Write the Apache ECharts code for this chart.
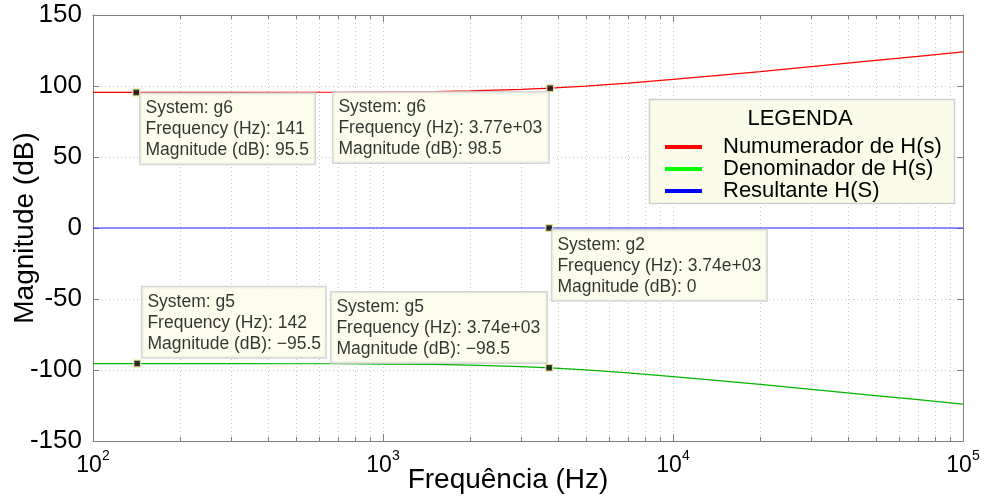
<!DOCTYPE html>
<html>
<head>
<meta charset="utf-8">
<script src="https://cdn.jsdelivr.net/npm/echarts@6/dist/echarts.min.js"></script>
<style>
  html, body { margin: 0; padding: 0; background: #fff; }
  #chart { width: 984px; height: 497px; }
</style>
</head>
<body>
<div id="chart"></div>
<script>
// Frequency grid (Hz) and magnitude responses (dB)
const freqHz = [100, 141, 200, 300, 500, 700, 1000, 1500, 2000, 3000, 3770, 5000, 7000, 10000, 15000, 20000, 30000, 50000, 70000, 100000];
const numeratorDb = [95.5, 95.5, 95.5, 95.5, 95.6, 95.6, 95.8, 96.1, 96.6, 97.6, 98.5, 99.9, 102.0, 104.6, 107.8, 110.1, 113.6, 118.0, 120.9, 124.0];
const denominatorDb = [-95.5, -95.5, -95.5, -95.5, -95.6, -95.6, -95.8, -96.1, -96.6, -97.6, -98.5, -99.9, -102.0, -104.6, -107.8, -110.1, -113.6, -118.0, -120.9, -124.0];
const resultantDb = [0, 0, 0, 0, 0, 0, 0, 0, 0, 0, 0, 0, 0, 0, 0, 0, 0, 0, 0, 0];

const seriesNames = ['Numumerador de H(s)', 'Denominador de H(s)', 'Resultante H(S)'];
const yTicks = [-150, -100, -50, 0, 50, 100, 150];
const minorFreqs = [200, 300, 400, 500, 600, 700, 800, 900,
                    2000, 3000, 4000, 5000, 6000, 7000, 8000, 9000,
                    20000, 30000, 40000, 50000, 60000, 70000, 80000, 90000];

// Data cursors: [system, frequency, magnitude, frequency text, magnitude text]
const tips = [
  ['g6', 141, 95.5, '141', '95.5'],
  ['g6', 3770, 98.5, '3.77e+03', '98.5'],
  ['g2', 3740, 0, '3.74e+03', '0'],
  ['g5', 142, -95.5, '142', '\u221295.5'],
  ['g5', 3740, -98.5, '3.74e+03', '\u221298.5']
];
// cursor box placement: [dx, dy, verticalAlign, box width]
const tipPlace = [
  [8.5, 5.5, 'top', 174],
  [-212.5, 8.5, 'top', 215],
  [7.5, 6.5, 'top', 214],
  [9.5, -2, 'bottom', 183],
  [-213.5, -1, 'bottom', 215]
];

const FONT = "'Liberation Sans', Arial, Helvetica, sans-serif";
const AXIS_COLOR = '#808080';
const GRID_DOT = { color: '#c4c4c4', width: 1, type: [1, 3] };

const zip = (xs, ys) => xs.map((x, i) => [x, ys[i]]);

const chart = echarts.init(document.getElementById('chart'), null, { renderer: 'canvas' });

const supLabel = v => {
  const e = Math.round(Math.log10(v));
  return '{b|10}{s|' + e + '}';
};

const option = {
  backgroundColor: '#ffffff',
  animation: false,
  textStyle: { fontFamily: FONT },
  grid: { left: 93, right: 21, top: 15, bottom: 56, containLabel: false, outerBoundsMode: 'none' },
  xAxis: [
    {
      type: 'log', logBase: 10, min: 100, max: 100000,
      name: 'Frequência (Hz)', nameLocation: 'middle', nameGap: 25, nameMoveOverlap: false,
      nameTextStyle: { fontSize: 28, color: '#000', fontFamily: FONT, padding: [0, 40, 0, 0] },
      axisLine: { show: true, onZero: false, lineStyle: { color: AXIS_COLOR, width: 1 } },
      axisTick: { show: true, inside: true, length: 7, lineStyle: { color: AXIS_COLOR } },
      axisLabel: {
        formatter: supLabel, margin: 8,
        rich: {
          b: { fontSize: 23, color: '#000', fontFamily: FONT, padding: [5, 0, 0, 0] },
          s: { fontSize: 14, color: '#000', fontFamily: FONT, verticalAlign: 'top' }
        }
      },
      splitLine: { show: true, lineStyle: GRID_DOT }
    },
    {
      type: 'log', logBase: 10, min: 100, max: 100000, position: 'top',
      axisLine: { show: true, onZero: false, lineStyle: { color: AXIS_COLOR, width: 1 } },
      axisTick: { show: true, inside: true, length: 7, lineStyle: { color: AXIS_COLOR } },
      axisLabel: { show: false },
      splitLine: { show: false }
    }
  ],
  yAxis: [
    {
      type: 'value', min: -150, max: 150, interval: 50,
      name: 'Magnitude (dB)', nameLocation: 'middle', nameGap: 54, nameMoveOverlap: false,
      nameTextStyle: { fontSize: 28, color: '#000', fontFamily: FONT },
      axisLine: { show: true, onZero: false, lineStyle: { color: AXIS_COLOR, width: 1 } },
      axisTick: { show: true, inside: true, length: 6, lineStyle: { color: AXIS_COLOR } },
      axisLabel: {
        fontSize: 26, color: '#000', fontFamily: FONT, margin: 11,
        formatter: v => (yTicks.includes(v) ? String(v) : '')
      },
      splitLine: { show: true, lineStyle: GRID_DOT }
    },
    {
      type: 'value', min: -150, max: 150, interval: 50, position: 'right',
      axisLine: { show: true, onZero: false, lineStyle: { color: AXIS_COLOR, width: 1 } },
      axisTick: { show: true, inside: true, length: 6, lineStyle: { color: AXIS_COLOR } },
      axisLabel: { show: false },
      splitLine: { show: false }
    }
  ],
  legend: {
    data: seriesNames,
    orient: 'vertical',
    left: 665, top: 136,
    z: 6,
    icon: 'rect',
    itemWidth: 37, itemHeight: 4, itemGap: 0,
    padding: 0,
    selectedMode: false,
    textStyle: { fontSize: 22, color: '#000', fontFamily: FONT, lineHeight: 21.5, padding: [0, 0, 0, 16] }
  },
  graphic: [
    {
      type: 'rect', z: 3,
      shape: { x: 649.5, y: 99.5, width: 305, height: 104 },
      style: { fill: '#fbfbe9', stroke: '#cfcfcf', lineWidth: 1.5 }
    },
    {
      type: 'text', z: 4, x: 800, y: 119,
      style: { text: 'LEGENDA', fontSize: 22, fill: '#000', fontFamily: FONT, align: 'center', verticalAlign: 'middle' }
    }
  ],
  series: [
    {
      // minor log grid lines and minor ticks on the bottom/top frame
      type: 'custom', name: 'minor-grid', silent: true, z: 1,
      xAxisIndex: 0, yAxisIndex: 0,
      data: minorFreqs.map(f => [f]),
      encode: { x: 0 },
      renderItem: (params, api) => {
        const cs = params.coordSys;
        const x = Math.round(api.coord([api.value(0), 0])[0]) + 0.5;
        const top = cs.y, bot = cs.y + cs.height;
        return {
          type: 'group',
          children: [
            { type: 'line', shape: { x1: x, y1: top, x2: x, y2: bot }, style: { stroke: GRID_DOT.color, lineWidth: 1, lineDash: [1, 3] } },
            { type: 'line', shape: { x1: x, y1: bot, x2: x, y2: bot - 4 }, style: { stroke: AXIS_COLOR, lineWidth: 1 } },
            { type: 'line', shape: { x1: x, y1: top, x2: x, y2: top + 4 }, style: { stroke: AXIS_COLOR, lineWidth: 1 } }
          ]
        };
      }
    },
    {
      type: 'line', name: seriesNames[0], data: zip(freqHz, numeratorDb),
      showSymbol: false, z: 2,
      lineStyle: { color: '#ff0000', width: 1.2 }, itemStyle: { color: '#ff0000' }
    },
    {
      type: 'line', name: seriesNames[1], data: zip(freqHz, denominatorDb),
      showSymbol: false, z: 2,
      lineStyle: { color: '#00b400', width: 1.2 }, itemStyle: { color: '#00ff00' }
    },
    {
      type: 'line', name: seriesNames[2], data: zip(freqHz, resultantDb),
      showSymbol: false, z: 2,
      lineStyle: { color: '#2020ff', width: 1.2 }, itemStyle: { color: '#0000ff' }
    },
    {
      type: 'scatter', name: 'cursors', z: 10,
      symbol: 'rect', symbolSize: 7,
      itemStyle: { color: '#000', borderColor: '#f5f0a8', borderWidth: 1.5 },
      data: tips.map((t, i) => ({
        value: [t[1], t[2]],
        label: {
          show: true,
          position: [tipPlace[i][0], tipPlace[i][1]],
          align: 'left',
          verticalAlign: tipPlace[i][2],
          width: tipPlace[i][3] - 10,
          overflow: 'none',
          formatter: 'System: ' + t[0] + '\nFrequency (Hz): ' + t[3] + '\nMagnitude (dB): ' + t[4],
          fontSize: 17.5, lineHeight: 21, color: '#000', fontFamily: FONT,
          backgroundColor: '#fdfde8', borderColor: '#cccccc', borderWidth: 1.5,
          padding: [4, 5, 3, 5]
        }
      }))
    }
  ]
};

chart.setOption(option);
</script>
</body>
</html>
